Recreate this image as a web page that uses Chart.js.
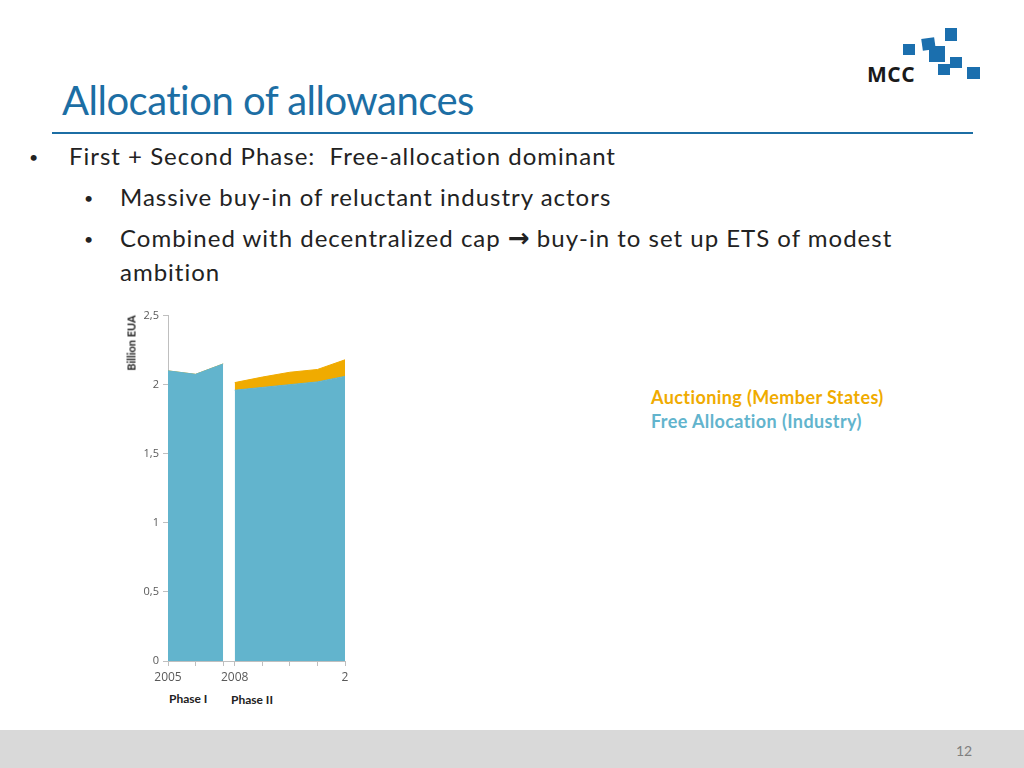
<!DOCTYPE html>
<html>
<head>
<meta charset="utf-8">
<script src="https://cdn.jsdelivr.net/npm/chart.js@4/dist/chart.umd.min.js"></script>
<style>
  html, body { margin: 0; padding: 0; }
  body { width: 1024px; height: 768px; position: relative; overflow: hidden; background: #fff; font-family: Lato, "Open Sans", sans-serif; }
  .abs { position: absolute; white-space: nowrap; }
  #title { left: 62px; top: 76px; font-size: 40px; color: #1C6EA4; letter-spacing: -0.5px; }
  #rule { left: 52px; top: 132px; width: 921px; height: 2px; background: #1C6EA4; }
  .txt { font-size: 24px; color: #222; line-height: 30px; letter-spacing: 1px; }
  .bul { font-size: 16px; color: #222; }
  .arrow { font-family: "DejaVu Sans", sans-serif; font-weight: bold; font-size: 26px; letter-spacing: 0; line-height: 20px; }
  #chartBox { left: 110px; top: 305px; width: 250px; height: 386px; }
  #yTitle { left: 131px; top: 343px; font-size: 11px; font-weight: bold; color: #222; transform: translate(-50%, -50%) rotate(-90deg); }
  .phase { font-size: 12px; font-weight: bold; color: #222; }
  .leg { font-size: 18px; font-weight: bold; letter-spacing: 0.4px; }
  #footer { left: 0; top: 730px; width: 1024px; height: 38px; background: #D9D9D9; }
  #pageNo { left: 956px; top: 742px; font-size: 14px; color: #7F7F7F; }
  .sq { position: absolute; background: #1B6FAE; }
</style>
</head>
<body>
<div class="abs" id="title">Allocation of allowances</div>
<div class="abs" id="rule"></div>

<div class="abs bul" style="left:29px; top:147px;">•</div>
<div class="abs txt" style="left:69px; top:141px;">First + Second Phase:&nbsp; Free-allocation dominant</div>
<div class="abs bul" style="left:84px; top:188px;">•</div>
<div class="abs txt" style="left:120px; top:182px;">Massive buy-in of reluctant industry actors</div>
<div class="abs bul" style="left:84px; top:229px;">•</div>
<div class="abs txt" style="left:120px; top:223px;">Combined with decentralized cap <span class="arrow">&#x2192;</span> buy-in to set up ETS of modest</div>
<div class="abs txt" style="left:120px; top:257px;">ambition</div>

<!-- logo -->
<div class="abs" style="left:867px; top:60px; font-size:21px; font-weight:bold; color:#1a1a1a; font-family:'Open Sans', sans-serif; letter-spacing:0.5px;">MCC</div>
<div class="sq" style="left:903px; top:44px; width:12px; height:11px;"></div>
<div class="sq" style="left:922px; top:38px; width:13px; height:12px; transform:rotate(-8deg);"></div>
<div class="sq" style="left:929px; top:46px; width:16px; height:16px;"></div>
<div class="sq" style="left:945px; top:28px; width:12px; height:13px;"></div>
<div class="sq" style="left:950px; top:57px; width:12px; height:11px;"></div>
<div class="sq" style="left:938px; top:64px; width:12px; height:11px;"></div>
<div class="sq" style="left:967px; top:67px; width:13px; height:12px;"></div>

<div class="abs" id="chartBox"><canvas id="chart"></canvas></div>
<div class="abs" id="yTitle">Billion EUA</div>
<div class="abs phase" style="left:169px; top:691px;">Phase I</div>
<div class="abs phase" style="left:231px; top:692px;">Phase II</div>

<div class="abs leg" id="legAuction" style="left:651px; top:386px;"></div>
<div class="abs leg" id="legFree" style="left:651px; top:410px;"></div>

<div class="abs" id="footer"></div>
<div class="abs" id="pageNo">12</div>

<script>
// data (billion EUA)
var years = [2005, 2006, 2007, 2008, 2009, 2010, 2011, 2012];
var freeAllocation = [2.10, 2.075, 2.15, 1.96, 1.98, 2.00, 2.02, 2.06];
var auctioning = [0.0, 0.0, 0.0, 0.055, 0.075, 0.09, 0.09, 0.12];
var seriesNames = ['Auctioning (Member States)', 'Free Allocation (Industry)'];
var xTickLabels = {2005: '2005', 2008: '2008', 2012: '2'};
var yTicks = [0, 0.5, 1, 1.5, 2, 2.5];

var phaseTwoStart = 2008;
var phaseGap = 0.42; // break between Phase I and Phase II on the x axis

var blue = '#62B4CD';
var orange = '#F0AB00';

document.getElementById('legAuction').textContent = seriesNames[0];
document.getElementById('legAuction').style.color = orange;
document.getElementById('legFree').textContent = seriesNames[1];
document.getElementById('legFree').style.color = blue;

function xPos(year) {
    var p = year - years[0];
    if (year >= phaseTwoStart) p = p - 1 + phaseGap;
    return p;
}

function buildSeries(values) {
    var out = [];
    for (var i = 0; i < years.length; i++) {
        if (years[i] == phaseTwoStart) {
            out.push({x: xPos(phaseTwoStart) - phaseGap / 2, y: null});
        }
        out.push({x: xPos(years[i]), y: values[i]});
    }
    return out;
}

var tickYears = {};
years.forEach(function(y) { tickYears[xPos(y).toFixed(3)] = y; });

var ctx = document.getElementById('chart').getContext('2d');
var chart = new Chart(ctx, {
    type: 'line',
    data: {
        datasets: [{
            label: seriesNames[1],
            data: buildSeries(freeAllocation),
            backgroundColor: blue,
            borderColor: blue,
            borderWidth: 1,
            fill: 'origin',
            pointRadius: 0,
            tension: 0,
            spanGaps: false
        }, {
            label: seriesNames[0],
            data: buildSeries(auctioning),
            backgroundColor: orange,
            borderColor: orange,
            borderWidth: 1,
            fill: '-1',
            pointRadius: 0,
            tension: 0,
            spanGaps: false
        }]
    },
    options: {
        responsive: true,
        maintainAspectRatio: false,
        animation: false,
        layout: { padding: { top: 10, right: 15, left: 0, bottom: 0 } },
        plugins: { legend: { display: false }, tooltip: { enabled: false } },
        scales: {
            x: {
                type: 'linear',
                min: xPos(years[0]),
                max: xPos(years[years.length - 1]),
                afterBuildTicks: function(scale) {
                    scale.ticks = years.map(function(y) { return {value: xPos(y)}; });
                },
                afterFit: function(scale) { scale.height = 30; },
                grid: { drawOnChartArea: false, drawTicks: true, tickLength: 5, color: '#BFBFBF' },
                border: { color: '#BFBFBF' },
                ticks: {
                    padding: 4,
                    maxRotation: 0,
                    autoSkip: false,
                    color: '#595959',
                    font: { family: '"Open Sans", sans-serif', size: 12 },
                    callback: function(v) {
                        var yr = tickYears[Number(v).toFixed(3)];
                        return xTickLabels[yr] || '';
                    }
                }
            },
            y: {
                stacked: true,
                min: 0,
                max: 2.5,
                afterBuildTicks: function(scale) {
                    scale.ticks = yTicks.map(function(v) { return {value: v}; });
                },
                afterFit: function(scale) { scale.width = 58; },
                grid: { drawOnChartArea: false, drawTicks: true, tickLength: 5, color: '#BFBFBF' },
                border: { color: '#BFBFBF' },
                ticks: {
                    padding: 4,
                    color: '#595959',
                    font: { family: '"Open Sans", sans-serif', size: 11 },
                    callback: function(v) { return String(v).replace('.', ','); }
                }
            }
        }
    }
});
</script>
</body>
</html>
